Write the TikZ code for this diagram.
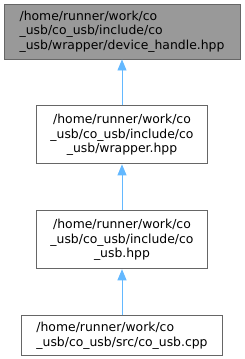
\documentclass[tikz,border=0pt]{standalone}
\usepackage{fontspec}
\setmainfont{DejaVu Sans}
\usetikzlibrary{positioning, arrows.meta}

\definecolor{nodeline}{HTML}{666666}
\definecolor{nodefill}{HTML}{999999}
\definecolor{edgeblue}{HTML}{63B8FF}

\begin{document}
\begin{tikzpicture}[
  x=1pt, y=-1pt,
  font=\fontsize{12.4}{14.7}\selectfont,
  fnode/.style={draw=nodeline, line width=0.9pt, fill=white, inner sep=0pt,
                minimum width=171pt, minimum height=58pt, align=center},
  incl/.style={-{Triangle[length=11pt, width=9pt]}, edgeblue, line width=0.9pt}
]
\useasboundingbox (0,0) rectangle (245,359);
\node[fnode, fill=nodefill, align=left, minimum width=236pt, minimum height=55pt]
  (handle) at (122,31.5)
  {/home/runner/work/co\\\_usb/co\_usb/include/co\\\_usb/wrapper/device\_handle.hpp};
\node[fnode, below=46pt of handle]
  (wrapper) {/home/runner/work/co\\\_usb/co\_usb/include/co\\\_usb/wrapper.hpp};
\node[fnode, below=46pt of wrapper]
  (cousb)   {/home/runner/work/co\\\_usb/co\_usb/include/co\\\_usb.hpp};
\node[fnode, align=left, minimum width=201pt, minimum height=40pt, below=46pt of cousb]
  (source)  {/home/runner/work/co\\\_usb/co\_usb/src/co\_usb.cpp};
\draw[incl] (wrapper) -- (handle);
\draw[incl] (cousb)   -- (wrapper);
\draw[incl] (source)  -- (cousb);
\end{tikzpicture}
\end{document}
